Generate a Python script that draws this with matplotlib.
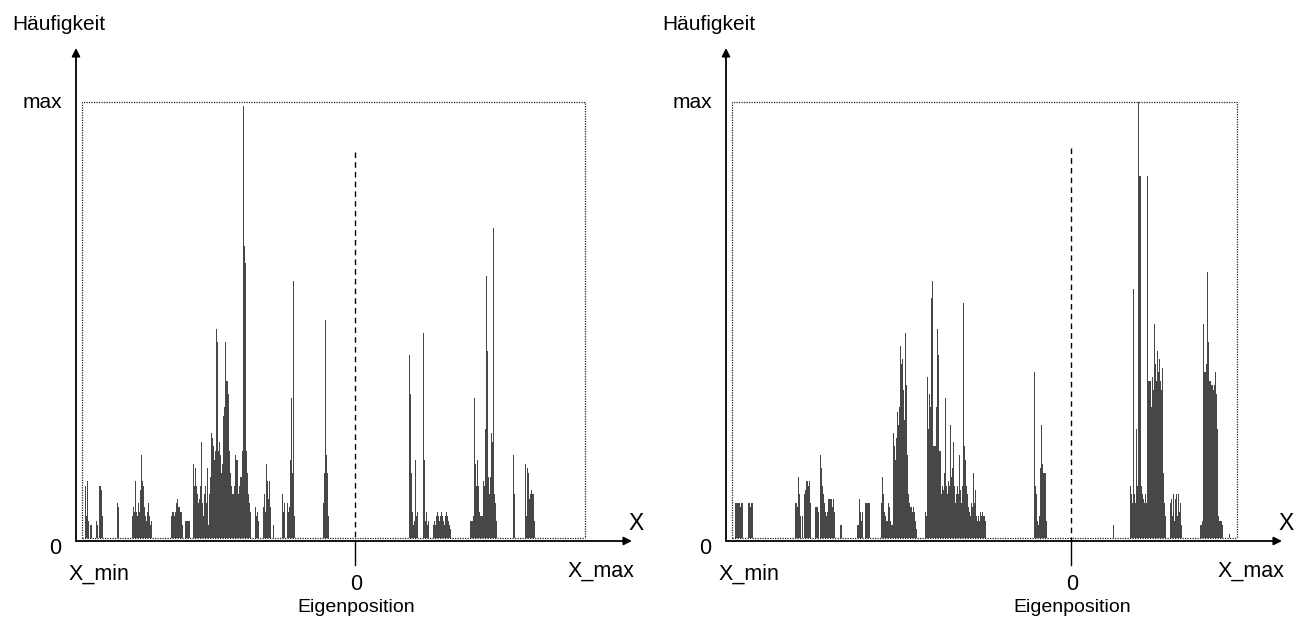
import matplotlib
matplotlib.use("Agg")
import matplotlib.pyplot as plt

plt.rcParams['font.family'] = ['Liberation Sans', 'DejaVu Sans']

# Häufigkeit je Positions-Bin (0..500 = X_min..X_max), Höhe in % von max
left_bins = [3, 4, 5, 6, 8, 9,
             14, 15, 17, 18, 19, 20,
             35, 36,
             50, 51, 52, 53, 54, 55, 56, 57, 58, 59, 60, 61, 62, 63, 64, 65, 66, 67, 68, 69,
             89, 90, 91, 92, 93, 94, 95, 96, 97, 98, 99, 100, 103, 104, 105, 106, 107,
             111, 112, 113, 114, 115, 116, 117, 118, 119, 120, 121, 122, 123, 124, 125,
             126, 127, 128, 129, 130, 131, 132, 133, 134, 135, 136, 137, 138, 139, 140,
             141, 142, 143, 144, 145, 146, 147, 148, 149, 150, 151, 152, 153, 154, 155,
             156, 157, 158, 159, 160, 161, 162, 163, 164, 165, 166, 167, 168,
             173, 174, 175, 176,
             181, 182, 183, 184, 185, 186, 187, 188, 191,
             200, 201, 202, 205, 206, 207, 208, 209, 210, 211, 212,
             241, 242, 243, 244, 245, 246,
             327, 328, 329, 330, 331, 332, 333, 334, 335,
             341, 342, 343, 344, 345, 346,
             351, 352, 353, 354, 355, 356, 357, 358, 359, 360, 361, 362, 363, 364, 365, 366, 367, 368,
             388, 389, 390, 391, 392, 393, 394, 395, 396, 397, 398, 399, 400, 401, 402,
             403, 404, 405, 406, 407, 408, 409, 410, 411, 412, 413, 414,
             431, 432,
             443, 444, 445, 446, 447, 448, 449, 450, 451, 452]
left_heights = [12, 5, 13, 4, 3, 3,
                4, 3, 12, 12, 11, 5,
                8, 7,
                5, 7, 6, 13, 6, 5, 8, 6, 11, 19, 13, 12, 7, 5, 4, 6, 8, 5, 3, 4,
                5, 6, 6, 5, 6, 8, 9, 7, 7, 6, 6, 3, 4, 4, 4, 4, 4,
                17, 12, 16, 12, 10, 8, 9, 12, 22, 8, 5, 10, 12, 8, 16,
                3, 10, 14, 24, 23, 21, 18, 20, 48, 45, 20, 22, 19, 15, 17,
                28, 30, 45, 36, 36, 33, 20, 15, 12, 10, 10, 12, 19, 18, 18,
                10, 12, 14, 14, 20, 99, 67, 63, 20, 15, 10, 8, 6,
                7, 5, 6, 4,
                7, 10, 6, 17, 13, 9, 13, 7, 3,
                10, 6, 8, 8, 6, 7, 18, 32, 15, 59, 5,
                8, 15, 50, 19, 15, 5,
                42, 33, 15, 6, 3, 4, 18, 5, 6,
                47, 18, 4, 6, 3, 4,
                3, 4, 3, 5, 6, 5, 4, 5, 6, 5, 4, 3, 5, 6, 5, 4, 3, 2,
                4, 4, 4, 5, 32, 17, 12, 18, 12, 6, 5, 5, 5, 13, 12,
                25, 60, 43, 14, 10, 14, 24, 22, 71, 10, 8, 4,
                19, 10,
                17, 5, 16, 15, 9, 10, 11, 10, 10, 4]

right_bins = [3, 4, 5, 6, 7, 8, 9, 10,
              16, 17, 18, 19, 20,
              63, 64, 65, 66, 67, 68, 70, 72, 73, 74, 75, 76, 77, 78,
              83, 84, 85, 86, 88, 89, 90, 91, 92, 93, 94, 95, 96, 97, 98, 99, 100, 101, 102,
              108, 109,
              125, 126, 127, 128, 129, 130, 133, 134, 135, 136, 137,
              149, 150, 151, 152, 153, 154, 155, 156, 157, 158, 159, 160, 161, 162, 163,
              164, 165, 166, 167, 168, 169, 170, 171, 172, 173, 174, 175, 176, 177, 178,
              179, 180, 181, 182, 183, 184,
              193, 194, 195, 196, 197, 198, 199, 200, 201, 202, 203, 204, 205, 206, 207,
              208, 209, 210, 211, 212, 213, 214, 215, 216, 217, 218, 219, 220, 221, 222,
              223, 224, 225, 226, 227, 228, 229, 230, 231, 232, 233, 234, 235, 236, 237,
              238, 239, 240, 241, 242, 243, 244, 245, 246, 247, 248, 249, 250, 251, 252, 253,
              302, 303, 304, 305, 306, 307, 308, 309, 310, 311, 312, 313, 314,
              381,
              398, 399, 400, 401, 402, 403, 404, 405, 406, 407, 408, 409, 410, 411, 412,
              413, 414, 415, 416, 417, 418, 419, 420, 421, 422, 423, 424, 425, 426, 427,
              428, 429, 430, 431, 432, 433,
              438, 439, 440, 441, 442, 443, 444, 445, 446, 447, 448, 449,
              468, 469, 470, 471, 472, 473, 474, 475, 476, 477, 478, 479, 480, 481, 482,
              483, 484, 485, 486, 487, 488, 489, 490, 497]
right_heights = [8, 8, 8, 8, 8, 7, 8, 8,
                 8, 8, 7, 8, 8,
                 8, 8, 7, 14, 10, 5, 5, 10, 11, 13, 13, 12, 13, 8,
                 7, 7, 7, 6, 19, 16, 12, 10, 8, 6, 5, 6, 9, 9, 9, 9, 7, 9, 6,
                 3, 3,
                 3, 3, 9, 6, 4, 6, 8, 8, 8, 8, 8,
                 8, 14, 10, 6, 5, 4, 4, 8, 7, 4, 3, 3, 24, 21, 18,
                 23, 29, 26, 30, 44, 40, 41, 34, 27, 47, 35, 19, 10, 8, 7,
                 7, 6, 7, 6, 4, 2,
                 6, 5, 37, 25, 33, 30, 55, 59, 21, 21, 21, 30, 48, 42, 20,
                 20, 10, 12, 11, 15, 32, 12, 10, 13, 12, 26, 14, 16, 22, 12,
                 8, 10, 12, 10, 19, 11, 8, 12, 54, 21, 18, 12, 10, 7, 6,
                 5, 8, 7, 15, 8, 11, 5, 4, 5, 4, 6, 5, 6, 5, 5, 4,
                 38, 12, 10, 4, 3, 5, 16, 26, 17, 15, 15, 15, 4,
                 3,
                 12, 10, 8, 57, 10, 8, 25, 12, 100, 83, 83, 12, 10, 9, 8,
                 10, 8, 83, 36, 36, 36, 30, 37, 34, 49, 40, 36, 43, 38, 41,
                 36, 34, 39, 15, 8, 5,
                 8, 9, 5, 10, 4, 9, 10, 5, 10, 6, 8, 3,
                 3, 3, 4, 49, 38, 38, 40, 61, 45, 36, 36, 35, 35, 34, 35,
                 38, 33, 25, 5, 4, 4, 4, 3, 1]

FIG_W, FIG_H = 1306, 626
BOX_TOP, BOX_BOT = 102, 538

fig = plt.figure(figsize=(FIG_W / 100, FIG_H / 100), dpi=100)


def make_panel(box_left, box_right, zero_px, zero_top, bins, heights):
    width = box_right - box_left
    ax = fig.add_axes([box_left / FIG_W, (FIG_H - BOX_BOT) / FIG_H,
                       width / FIG_W, (BOX_BOT - BOX_TOP) / FIG_H])
    ax.set_xlim(0, width)
    ax.set_ylim(0, 100)
    ax.axis('off')
    sy = (BOX_BOT - BOX_TOP) / 100.0

    def d(px, py):
        # Pixel im Bild -> Datenkoordinaten
        return px - box_left, (BOX_BOT - py) / sy

    ax.bar(bins, heights, width=1.0, color='#474747', linewidth=0, align='edge')

    # gepunkteter Rahmen (max)
    dot = dict(color='#222222', lw=0.9, ls=(0, (1, 1)), clip_on=False)
    ax.plot([0, 0, width, width], [0, 100, 100, 0], **dot)
    ax.plot([0, width], [0, 0], **dot)

    # Achsen mit Pfeilen
    arr = dict(arrowstyle='-|>', lw=1.3, color='black', mutation_scale=12,
               shrinkA=0, shrinkB=0)
    ax.annotate('', xy=d(box_left - 6, 48), xytext=d(box_left - 6, 541),
                arrowprops=arr, annotation_clip=False)
    ax.annotate('', xy=d(box_left + 550, 541), xytext=d(box_left - 6, 541),
                arrowprops=arr, annotation_clip=False)

    # Eigenposition (0)
    x0, _ = d(zero_px, 0)
    ax.plot([x0, x0], [d(0, zero_top)[1], d(0, 541)[1]], color='black',
            lw=1.0, ls=(0, (4, 3)), clip_on=False)
    ax.plot([x0, x0], [d(0, 541)[1], d(0, 565)[1]], color='black',
            lw=1.0, clip_on=False)

    def txt(px, py, s, size=15.5, ha='center'):
        ax.text(*d(px, py), s, fontsize=size, ha=ha, va='center', clip_on=False)

    txt(box_left - 70, 25, 'Häufigkeit', size=15, ha='left')
    txt(box_left - 40, 102, 'max', size=15)
    txt(box_left - 27, 549, '0')
    txt(box_left + 554, 524, 'X', size=16.5)
    txt(box_left + 17, 574, 'X_min')
    txt(box_left + 519, 571, 'X_max')
    txt(zero_px + 1, 584, '0')
    txt(zero_px + 1, 608, 'Eigenposition', size=14)
    return ax


make_panel(82, 585, 355, 152, left_bins, left_heights)
make_panel(732, 1237, 1071, 148, right_bins, right_heights)

fig.savefig('out.png', dpi=100, facecolor='white')
